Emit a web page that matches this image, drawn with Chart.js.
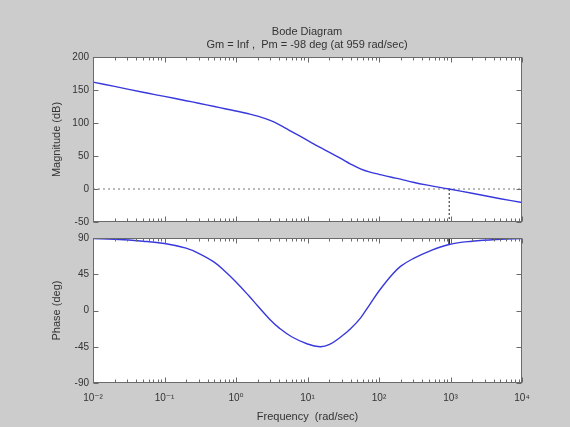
<!DOCTYPE html>
<html>
<head>
<meta charset="utf-8">
<script src="https://cdn.jsdelivr.net/npm/chart.js@4/dist/chart.umd.min.js"></script>
<style>
  html, body { margin: 0; padding: 0; background: #cccccc; }
  #wrap { position: relative; width: 570px; height: 427px; overflow: hidden; background: #cccccc; }
  canvas { position: absolute; }
  #magCanvas { left: 44px; top: 0px; }
  #phaseCanvas { left: 44px; top: 228px; }
</style>
</head>
<body>
<div id="wrap">
  <canvas id="magCanvas" width="526" height="232"></canvas>
  <canvas id="phaseCanvas" width="526" height="199"></canvas>
</div>
<script>
// Frequency samples (rad/sec) and the response at each of them
const freq = [0.01, 0.02, 0.05, 0.1, 0.2, 0.3, 0.5, 0.7, 1, 1.5, 2, 3, 4, 6, 10, 15, 20, 30, 40, 55, 75, 100, 150, 200, 300, 500, 959, 2000, 5000, 10000];
const magDb = [162, 155.5, 146.5, 140.3, 133.8, 130, 125, 121.6, 118.2, 114, 110.4, 103.9, 97.7, 87.1, 73.6, 63, 56, 45.5, 37.8, 30.5, 25.5, 22.2, 17.8, 15, 10.2, 5.4, 0, -6.5, -14.7, -20.5];
const phaseDeg = [89.2, 88.4, 86, 83.1, 77.4, 71, 59.8, 48.7, 35.4, 18.6, 5.9, -11.5, -21.6, -32.6, -41.6, -45, -42.5, -32, -22.6, -9.4, 8, 24.2, 43.8, 54.8, 64.4, 73.5, 82, 86, 88.4, 89.2];

// Margin readout
const gainMargin = 'Inf';
const phaseMargin = -98;
const crossFreq = 959;
const crossPhase = 82;

// Axis ticks
const xMajorTicks = [0.01, 0.1, 1, 10, 100, 1000, 10000];
const xTickLabels = ['10\u207B\u00B2', '10\u207B\u00B9', '10\u2070', '10\u00B9', '10\u00B2', '10\u00B3', '10\u2074'];
const xMinorSteps = [2, 3, 4, 5, 6, 7, 8, 9];
const magTicks = [-50, 0, 50, 100, 150, 200];
const phaseTicks = [-90, -45, 0, 45, 90];

const FONT = "'Liberation Sans', Arial, 'DejaVu Sans', sans-serif";
const AXIS_COLOR = '#6a6a6a';
const TEXT_COLOR = '#333333';
const CURVE_COLOR = '#3838dc';

Chart.defaults.font.family = FONT;
Chart.defaults.color = TEXT_COLOR;

// all x tick positions: decades plus 2..9 within each decade
const xAllTicks = [];
xMajorTicks.forEach((d, i) => {
  xAllTicks.push(d);
  if (i < xMajorTicks.length - 1) xMinorSteps.forEach(s => xAllTicks.push(d * s));
});

// white plot area, framed box with inward tick marks on all four sides
const boxTicks = {
  id: 'boxTicks',
  beforeDatasetsDraw(chart) {
    const { ctx, chartArea: a } = chart;
    ctx.save();
    ctx.fillStyle = '#ffffff';
    ctx.fillRect(a.left, a.top, a.right - a.left, a.bottom - a.top);
    ctx.restore();
  },
  afterDraw(chart) {
    const { ctx, chartArea: a, scales } = chart;
    const L = Math.round(a.left) + 0.5, R = Math.round(a.right) - 0.5;
    const T = Math.round(a.top) + 0.5, B = Math.round(a.bottom) - 0.5;
    ctx.save();
    ctx.strokeStyle = AXIS_COLOR;
    ctx.lineWidth = 1;
    ctx.beginPath();
    const xs = scales.x;
    xs.ticks.forEach(t => {
      const px = Math.round(xs.getPixelForValue(t.value)) + 0.5;
      const len = xMajorTicks.includes(t.value) ? 5 : 3;
      ctx.moveTo(px, B); ctx.lineTo(px, B - len);
      ctx.moveTo(px, T); ctx.lineTo(px, T + len);
    });
    const ys = scales.y;
    ys.ticks.forEach(t => {
      const py = Math.round(ys.getPixelForValue(t.value)) + 0.5;
      ctx.moveTo(L, py); ctx.lineTo(L + 5, py);
      ctx.moveTo(R, py); ctx.lineTo(R - 5, py);
    });
    ctx.stroke();
    ctx.strokeRect(L, T, R - L, B - T);
    ctx.restore();
  }
};

function xScale(showLabels, height, title) {
  return {
    type: 'logarithmic',
    min: xMajorTicks[0],
    max: xMajorTicks[xMajorTicks.length - 1],
    grid: { display: false, drawTicks: false },
    border: { display: false },
    afterBuildTicks: s => { s.ticks = xAllTicks.map(v => ({ value: v })); },
    afterFit: s => { s.height = height; },
    ticks: {
      display: showLabels,
      autoSkip: false,
      maxRotation: 0,
      padding: 9,
      font: { size: 10 },
      callback: v => {
        const i = xMajorTicks.indexOf(v);
        return i >= 0 ? xTickLabels[i] : '';
      }
    },
    title: title ? {
      display: true, text: title, font: { size: 11 }, padding: { top: 0, bottom: 3.4 }
    } : { display: false }
  };
}

function yScale(ticksArr, title) {
  return {
    type: 'linear',
    position: 'left',
    min: ticksArr[0],
    max: ticksArr[ticksArr.length - 1],
    grid: { display: false, drawTicks: false },
    border: { display: false },
    afterBuildTicks: s => { s.ticks = ticksArr.map(v => ({ value: v })); },
    afterFit: s => { s.width = 49; },
    ticks: { padding: 4, font: { size: 10 }, callback: v => String(v) },
    title: { display: true, text: title, font: { size: 11 }, padding: { top: 6.4, bottom: 0 } }
  };
}

// spare right axis keeps the plot box away from the right edge
const rightSpacer = {
  type: 'linear',
  position: 'right',
  display: true,
  grid: { display: false, drawTicks: false },
  border: { display: false },
  ticks: { display: false },
  afterFit: s => { s.width = 48; }
};

const curveStyle = {
  borderColor: CURVE_COLOR,
  borderWidth: 1.4,
  pointRadius: 0,
  tension: 0.4,
  fill: false
};

// Magnitude plot
new Chart(document.getElementById('magCanvas'), {
  type: 'line',
  data: {
    datasets: [
      Object.assign({ data: freq.map((f, i) => ({ x: f, y: magDb[i] })) }, curveStyle),
      {
        data: [{ x: xMajorTicks[0], y: 0 }, { x: xMajorTicks[xMajorTicks.length - 1], y: 0 }],
        borderColor: '#777777', borderWidth: 1, borderDash: [2, 3], pointRadius: 0
      },
      {
        data: [{ x: crossFreq, y: 0 }, { x: crossFreq, y: magTicks[0] }],
        borderColor: '#222222', borderWidth: 1, borderDash: [2, 2], pointRadius: 0
      }
    ]
  },
  options: {
    responsive: false,
    devicePixelRatio: 1,
    animation: false,
    layout: { padding: 0 },
    plugins: {
      legend: { display: false },
      tooltip: { enabled: false },
      title: {
        display: true,
        text: ['Bode Diagram', 'Gm = ' + gainMargin + ' ,  Pm = ' + phaseMargin + ' deg (at ' + crossFreq + ' rad/sec)'],
        font: { size: 11, weight: 'normal', lineHeight: 1.2 },
        color: TEXT_COLOR,
        padding: { top: 25.4, bottom: 5.2 }
      }
    },
    scales: {
      x: xScale(false, 8, null),
      y: yScale(magTicks, 'Magnitude (dB)'),
      yRight: rightSpacer
    }
  },
  plugins: [boxTicks]
});

// Phase plot
new Chart(document.getElementById('phaseCanvas'), {
  type: 'line',
  data: {
    datasets: [
      Object.assign({ data: freq.map((f, i) => ({ x: f, y: phaseDeg[i] })) }, curveStyle),
      {
        data: [{ x: crossFreq, y: phaseTicks[phaseTicks.length - 1] }, { x: crossFreq, y: crossPhase }],
        borderColor: '#222222', borderWidth: 1, pointRadius: 0
      }
    ]
  },
  options: {
    responsive: false,
    devicePixelRatio: 1,
    animation: false,
    layout: { padding: { top: 8, bottom: 0, left: 0, right: 0 } },
    plugins: { legend: { display: false }, tooltip: { enabled: false } },
    scales: {
      x: xScale(true, 44, 'Frequency  (rad/sec)'),
      y: yScale(phaseTicks, 'Phase (deg)'),
      yRight: Object.assign({}, rightSpacer)
    }
  },
  plugins: [boxTicks]
});
</script>
</body>
</html>
